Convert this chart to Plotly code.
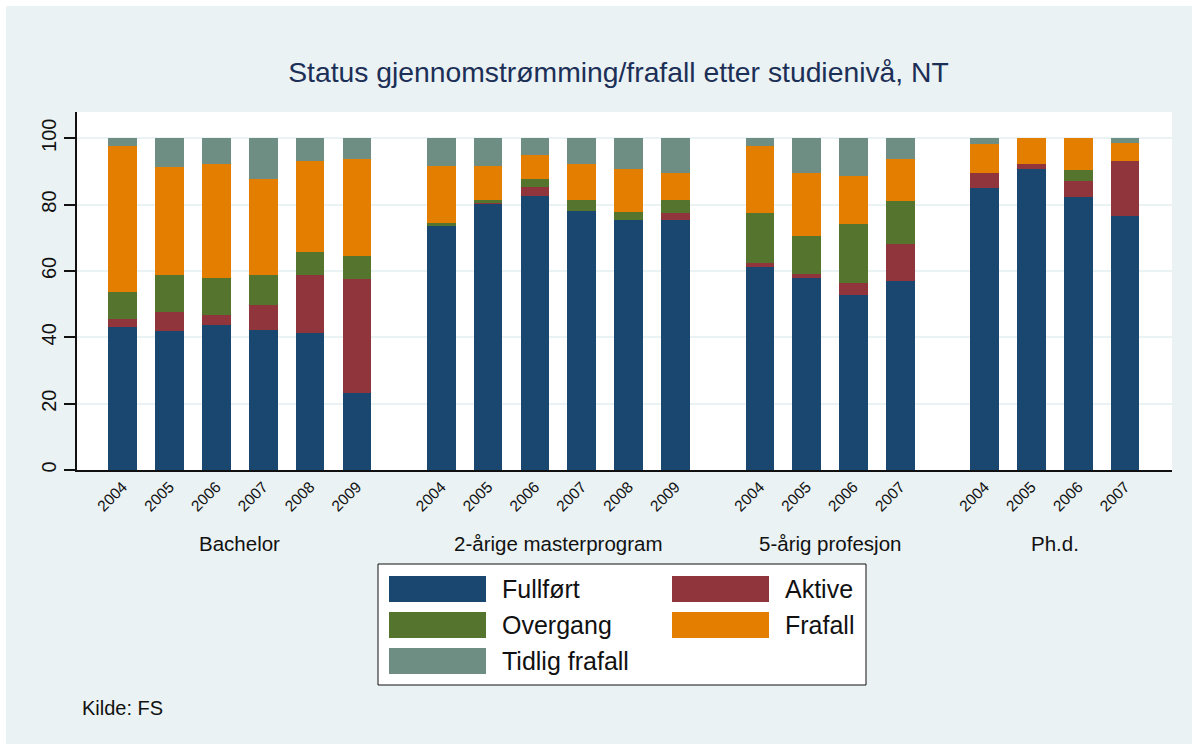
import plotly.graph_objects as go

# ---------------- data ----------------
groups = ["Bachelor", "2-årige masterprogram", "5-årig profesjon", "Ph.d."]
group_years = [
    ["2004", "2005", "2006", "2007", "2008", "2009"],
    ["2004", "2005", "2006", "2007", "2008", "2009"],
    ["2004", "2005", "2006", "2007"],
    ["2004", "2005", "2006", "2007"],
]
series_names = ["Fullført", "Aktive", "Overgang", "Frafall", "Tidlig frafall"]

fullfort = [43.0, 42.0, 43.7, 42.3, 41.4, 23.3,
            73.4, 80.4, 82.6, 78.0, 75.5, 75.2,
            61.2, 58.0, 52.6, 56.9,
            85.1, 90.6, 82.4, 76.5]
aktive = [2.5, 5.7, 3.1, 7.4, 17.4, 34.2,
          0.0, 0.2, 2.7, 0.0, 0.0, 2.2,
          1.1, 1.0, 3.8, 11.2,
          4.4, 1.7, 4.7, 16.7]
overgang = [8.2, 11.0, 11.2, 9.0, 6.9, 6.9,
            1.0, 0.8, 2.4, 3.3, 2.3, 4.0,
            15.1, 11.6, 17.7, 13.0,
            0.0, 0.0, 3.4, 0.0]
frafall = [44.0, 32.7, 34.1, 29.0, 27.4, 29.4,
           17.3, 10.1, 7.1, 11.0, 13.0, 8.1,
           20.3, 19.0, 14.6, 12.6,
           8.9, 7.7, 9.5, 5.3]
tidlig = [2.3, 8.6, 7.9, 12.3, 6.9, 6.2,
          8.3, 8.5, 5.2, 7.7, 9.2, 10.5,
          2.3, 10.4, 11.3, 6.3,
          1.6, 0.0, 0.0, 1.5]

series_values = [fullfort, aktive, overgang, frafall, tidlig]
colors = ["#1A476F", "#90353B", "#55752F", "#E37E00", "#6E8E84"]
y_ticks = [0, 20, 40, 60, 80, 100]

title_text = "Status gjennomstrømming/frafall etter studienivå, NT"
source_text = "Kilde: FS"

# ---------------- layout constants ----------------
W, H = 1192, 744
ML, MR, MT, MB = 77, 20, 112, 274
PW, PH = W - ML - MR, H - MT - MB
BG = "#EAF2F3"
FONT = "Liberation Sans, Arial, sans-serif"
GROUP_GAP = 0.8


def px_x(px):
    return (px - ML) / PW


def px_y(py):
    return (H - MB - py) / PH


# category positions with a gap between groups
positions, tick_text, group_centers = [], [], []
pos = 0.0
for yrs in group_years:
    start = pos
    for yr in yrs:
        positions.append(pos)
        tick_text.append(yr)
        pos += 1
    group_centers.append((start + pos - 1) / 2)
    pos += GROUP_GAP

fig = go.Figure()
for name, vals, col in zip(series_names, series_values, colors):
    fig.add_trace(go.Bar(
        x=positions, y=vals, name=name, width=0.61,
        marker=dict(color=col, line=dict(width=0)),
        showlegend=False,
    ))

annotations = []
for g, c in zip(groups, group_centers):
    annotations.append(dict(
        x=c, y=px_y(543), xref="x", yref="paper", text=g, showarrow=False,
        font=dict(size=20.5, color="#111111", family=FONT),
        xanchor="center", yanchor="middle"))

annotations.append(dict(
    x=px_x(80), y=px_y(708), xref="paper", yref="paper", text=source_text,
    showarrow=False, font=dict(size=20, color="#111111", family=FONT),
    xanchor="left", yanchor="middle"))

shapes = []
# white strips at top and left edges of the image
shapes.append(dict(type="rect", xref="paper", yref="paper",
                   x0=px_x(-2), x1=px_x(6), y0=px_y(H + 2), y1=px_y(-2),
                   fillcolor="white", line=dict(width=0), layer="above"))
shapes.append(dict(type="rect", xref="paper", yref="paper",
                   x0=px_x(-2), x1=px_x(W + 2), y0=px_y(6), y1=px_y(-2),
                   fillcolor="white", line=dict(width=0), layer="above"))

# legend box
shapes.append(dict(type="rect", xref="paper", yref="paper",
                   x0=px_x(378), x1=px_x(866), y0=px_y(685), y1=px_y(564),
                   fillcolor="white", line=dict(color="#111111", width=1)))
col_x = [389, 672]
row_y = [576, 612, 648]
for i, (name, col) in enumerate(zip(series_names, colors)):
    r, c = divmod(i, 2)
    x0 = col_x[c]
    y0 = row_y[r]
    shapes.append(dict(type="rect", xref="paper", yref="paper",
                       x0=px_x(x0), x1=px_x(x0 + 97), y0=px_y(y0 + 26), y1=px_y(y0),
                       fillcolor=col, line=dict(width=0)))
    annotations.append(dict(
        x=px_x(x0 + 111), y=px_y(y0 + 13), xref="paper", yref="paper",
        text=name, showarrow=False,
        font=dict(size=25, color="#111111", family=FONT),
        xanchor="left", yanchor="middle"))

fig.update_layout(
    width=W, height=H,
    margin=dict(l=ML, r=MR, t=MT, b=MB, pad=0),
    paper_bgcolor=BG, plot_bgcolor="white",
    barmode="stack", bargap=0,
    title=dict(text=title_text, x=px_x(618.5), xanchor="center", xref="paper",
               y=1 - 72 / H, yanchor="middle", yref="container",
               font=dict(size=28.3, color="#1C2F57", family=FONT)),
    font=dict(family=FONT, color="#111111"),
    xaxis=dict(
        range=[-0.976, 22.40], tickmode="array", tickvals=positions,
        ticktext=tick_text, tickangle=-45, ticks="", showgrid=False,
        zeroline=False, showline=True, linecolor="#111111", linewidth=1.5,
        tickfont=dict(size=15.5, color="#111111"),
    ),
    yaxis=dict(
        range=[0, 107.9], tickmode="array", tickvals=y_ticks,
        ticktext=[str(v) for v in y_ticks], tickangle=-90,
        ticks="outside", ticklen=11, tickcolor="#111111", tickwidth=1.5,
        showgrid=True, gridcolor=BG, gridwidth=1.5, zeroline=False,
        showline=True, linecolor="#111111", linewidth=1.5,
        tickfont=dict(size=20, color="#111111"),
    ),
    shapes=shapes, annotations=annotations,
)

fig.write_html("out.html", config={"displayModeBar": False},
               post_script="document.body.style.margin='0';")
